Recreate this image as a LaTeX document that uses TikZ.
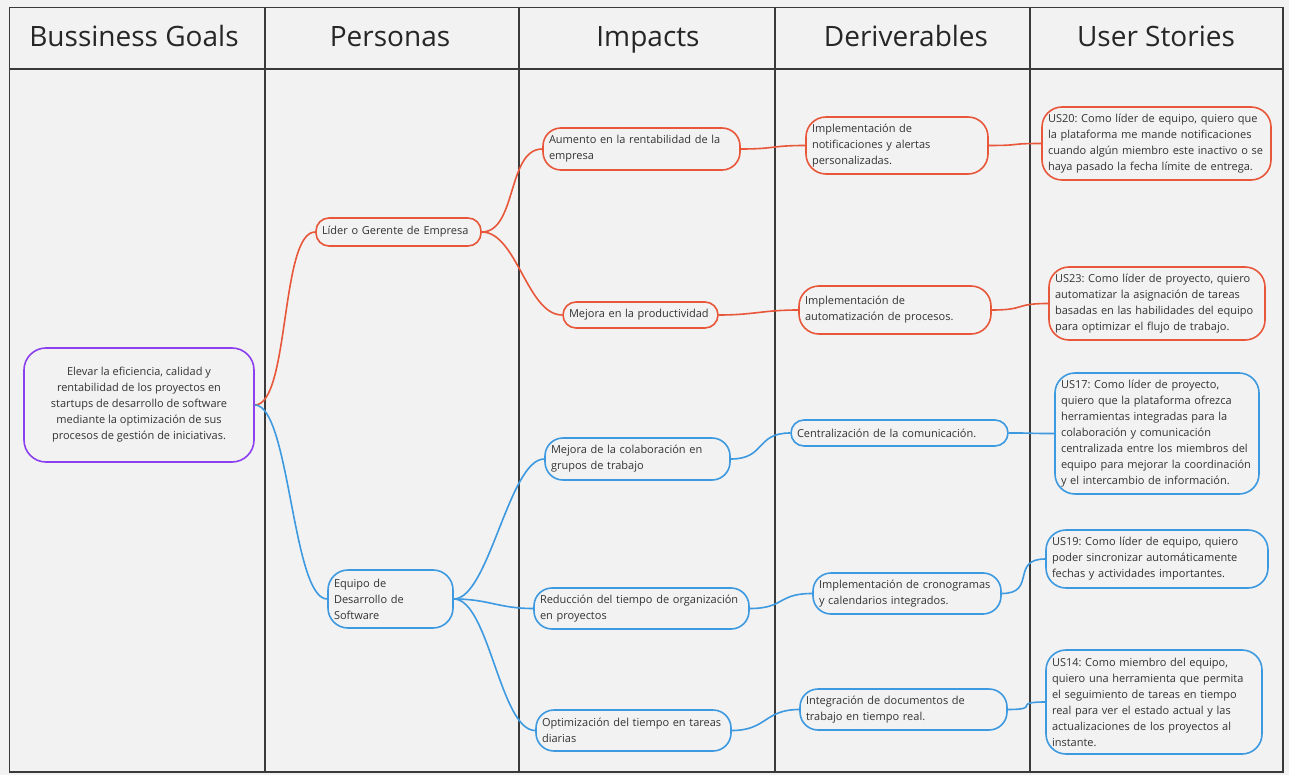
\documentclass[tikz,border=0pt]{standalone}
\usepackage{fontspec}
\setmainfont{Open Sans}
\frenchspacing
\definecolor{bgc}{HTML}{F2F2F2}
\definecolor{gridc}{HTML}{3A3A3A}
\definecolor{redc}{HTML}{E8573A}
\definecolor{bluec}{HTML}{3D9AE0}
\definecolor{purc}{HTML}{8B3FEF}
\definecolor{txtc}{HTML}{333333}
\tikzset{
  head/.style={font=\fontsize{28}{32}\selectfont, text=black!85, anchor=base},
  card/.style={draw, line width=1.6pt, rounded corners=13pt, fill=bgc, text=txtc,
    font=\fontsize{11}{16}\selectfont\frenchspacing, align=left, inner xsep=6pt, inner ysep=0pt},
  redcard/.style={card, draw=redc},
  bluecard/.style={card, draw=bluec},
  link/.style={line width=1.6pt, to path={.. controls +(35,0) and +(-35,0) .. (\tikztotarget)}},
}

\begin{document}
\begin{tikzpicture}[x=1pt, y=-1pt]
\fill[bgc] (0,0) rectangle (1289,775);
\useasboundingbox (0,0) rectangle (1289,775);
\draw[gridc, line width=1.5pt] (9.5,7.5) rectangle (1283,772);
\draw[gridc, line width=1.5pt] (9.5,69) -- (1283,69);
\foreach \cx in {265,519,775,1030}
  \draw[gridc, line width=1.5pt] (\cx,7.5) -- (\cx,772);

\node[head] (hgoals) at (134,47) {Bussiness Goals};
\node[head] (hpersonas) at (390,47) {Personas};
\node[head] (himpacts) at (648,47) {Impacts};
\node[head] (hderiv) at (906,47) {Deriverables};
\node[head] (hstories) at (1156,47) {User Stories};

\node[card, draw=purc, align=center, inner xsep=0pt, rounded corners=22pt, minimum width=230, minimum height=114] (goal) at (139,405)
  {Elevar la eficiencia, calidad y\\ rentabilidad de los proyectos en\\ startups de desarrollo de software\\ mediante la optimización de sus\\ procesos de gestión de iniciativas.};

\node[redcard, text width=153, minimum height=28] (lider) at (398.5,232) {Líder o Gerente de Empresa};
\node[bluecard, rounded corners=20pt, text width=113, minimum height=58] (equipo) at (390.5,599)
  {Equipo de\\ Desarrollo de\\ Software};

\node[redcard, rounded corners=18pt, text width=185, minimum height=42] (aumento) at (641.5,149)
  {Aumento en la rentabilidad de la\\ empresa};
\node[redcard, text width=143, minimum height=26] (productividad) at (640.5,315) {Mejora en la productividad};
\node[bluecard, rounded corners=18pt, text width=173, minimum height=42] (colaboracion) at (637.5,459)
  {Mejora de la colaboración en\\ grupos de trabajo};
\node[bluecard, rounded corners=18pt, text width=203, minimum height=41] (reduccion) at (641.5,608.5)
  {Reducción del tiempo de organización\\ en proyectos};
\node[bluecard, rounded corners=18pt, text width=183, minimum height=41] (optimizacion) at (633.5,730.5)
  {Optimización del tiempo en tareas\\ diarias};

\node[redcard, rounded corners=20pt, text width=170, minimum height=57] (notificaciones) at (897,145.5)
  {Implementación de\\ notificaciones y alertas\\ personalizadas.};
\node[redcard, rounded corners=20pt, text width=180, minimum height=48] (automatizacion) at (895,310)
  {Implementación de\\ automatización de procesos.};
\node[bluecard, text width=205, minimum height=26] (centralizacion) at (899.5,433) {Centralización de la comunicación.};
\node[bluecard, rounded corners=18pt, text width=176, minimum height=41] (cronogramas) at (907,593.5)
  {Implementación de cronogramas\\ y calendarios integrados.};
\node[bluecard, rounded corners=18pt, text width=195, minimum height=41] (integracion) at (903.5,709.5)
  {Integración de documentos de\\ trabajo en tiempo real.};

\node[redcard, rounded corners=20pt, text width=217, minimum height=73] (us20) at (1156.5,143.5)
  {US20: Como líder de equipo, quiero que\\ la plataforma me mande notificaciones\\ cuando algún miembro este inactivo o se\\ haya pasado la fecha límite de entrega.};
\node[redcard, rounded corners=20pt, text width=204, minimum height=73] (us23) at (1157,303.5)
  {US23: Como líder de proyecto, quiero\\ automatizar la asignación de tareas\\ basadas en las habilidades del equipo\\ para optimizar el flujo de trabajo.};
\node[bluecard, rounded corners=20pt, text width=192, minimum height=121] (us17) at (1157,433.5)
  {US17: Como líder de proyecto,\\ quiero que la plataforma ofrezca\\ herramientas integradas para la\\ colaboración y comunicación\\ centralizada entre los miembros del\\ equipo para mejorar la coordinación\\ y el intercambio de información.};
\node[bluecard, rounded corners=20pt, text width=210, minimum height=58] (us19) at (1157,559)
  {US19: Como líder de equipo, quiero\\ poder sincronizar automáticamente\\ fechas y actividades importantes.};
\node[bluecard, rounded corners=20pt, text width=204, minimum height=104] (us14) at (1154,702)
  {US14: Como miembro del equipo,\\ quiero una herramienta que permita\\ el seguimiento de tareas en tiempo\\ real para ver el estado actual y las\\ actualizaciones de los proyectos al\\ instante.};

\draw[link, redc] (goal.east) to (lider.west);
\draw[link, bluec] (goal.east) to (equipo.west);
\draw[link, redc] (lider.east) to (aumento.west);
\draw[link, redc] (lider.east) to (productividad.west);
\draw[link, bluec] (equipo.east) to (colaboracion.west);
\draw[link, bluec] (equipo.east) to (reduccion.west);
\draw[link, bluec] (equipo.east) to (optimizacion.west);
\draw[link, redc] (aumento.east) to (notificaciones.west);
\draw[link, redc] (productividad.east) to (automatizacion.west);
\draw[link, bluec] (colaboracion.east) to (centralizacion.west);
\draw[link, bluec] (reduccion.east) to (cronogramas.west);
\draw[link, bluec] (optimizacion.east) to (integracion.west);
\draw[link, redc] (notificaciones.east) to (us20.west);
\draw[link, redc] (automatizacion.east) to (us23.west);
\draw[link, bluec] (centralizacion.east) to (us17.west);
\draw[link, bluec] (cronogramas.east) to (us19.west);
\draw[link, bluec] (integracion.east) to (us14.west);
\end{tikzpicture}
\end{document}
